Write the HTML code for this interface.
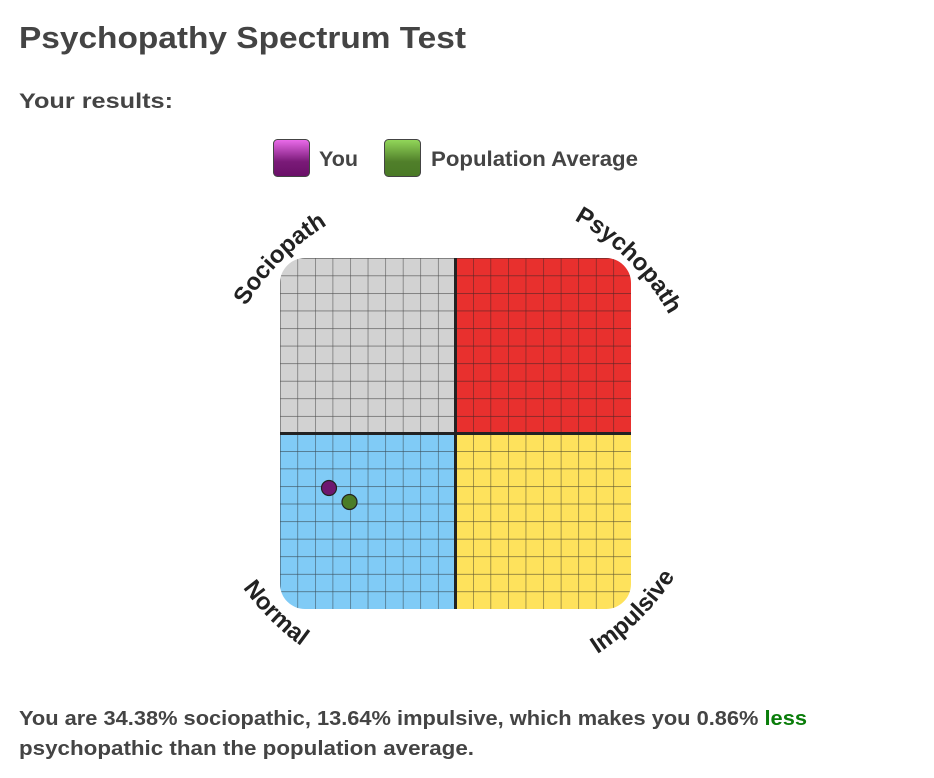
<!DOCTYPE html>
<html><head><meta charset="utf-8"><style>
html,body{margin:0;padding:0;background:#fff;}
svg{display:block;font-family:"Liberation Sans",sans-serif;}
</style></head><body>
<svg width="934" height="778" viewBox="0 0 934 778" xmlns="http://www.w3.org/2000/svg">
<defs>
<linearGradient id="gp" x1="0" y1="0" x2="0" y2="1"><stop offset="0" stop-color="#ec6cec"/><stop offset="0.6" stop-color="#7a1a78"/><stop offset="1" stop-color="#6a1068"/></linearGradient>
<linearGradient id="gg" x1="0" y1="0" x2="0" y2="1"><stop offset="0" stop-color="#93d85a"/><stop offset="0.6" stop-color="#507f2a"/><stop offset="1" stop-color="#4a7a26"/></linearGradient>
<clipPath id="cl"><rect x="280" y="258" width="351" height="351" rx="25" ry="25"/></clipPath>
<pattern id="grid" x="280" y="258" width="17.55" height="17.55" patternUnits="userSpaceOnUse">
<path d="M0 0 H17.55 M0 0 V17.55" stroke="#222" stroke-opacity="0.75" stroke-width="1.1" fill="none"/>
</pattern>
<path id="p1" d="M218.3,370.6 A245,245 0 0 1 391.6,197.3"/>
<path id="p2" d="M518.4,197.3 A245,245 0 0 1 691.7,370.6"/>
<path id="p3" d="M201.9,501.8 A262,262 0 0 0 387.2,687.1"/>
<path id="p4" d="M522.8,687.1 A262,262 0 0 0 708.1,501.8"/>
</defs>
<text x="19" y="48" font-size="31" font-weight="bold" fill="#444" textLength="447" lengthAdjust="spacingAndGlyphs">Psychopathy Spectrum Test</text>
<text x="19" y="108" font-size="21" font-weight="bold" fill="#444" textLength="154" lengthAdjust="spacingAndGlyphs">Your results:</text>
<rect x="273.5" y="139.5" width="36" height="37" rx="4" fill="url(#gp)" stroke="#444" stroke-width="1"/>
<text x="319" y="166" font-size="21" font-weight="bold" fill="#444" textLength="39" lengthAdjust="spacingAndGlyphs">You</text>
<rect x="384.5" y="139.5" width="36" height="37" rx="4" fill="url(#gg)" stroke="#444" stroke-width="1"/>
<text x="431" y="166" font-size="21" font-weight="bold" fill="#444" textLength="207" lengthAdjust="spacingAndGlyphs">Population Average</text>
<g clip-path="url(#cl)">
<rect x="280" y="258" width="175.5" height="175.5" fill="#d2d2d2"/>
<rect x="455.5" y="258" width="175.5" height="175.5" fill="#e8302e"/>
<rect x="280" y="433.5" width="175.5" height="175.5" fill="#80cbf6"/>
<rect x="455.5" y="433.5" width="175.5" height="175.5" fill="#fee25c"/>
<rect x="280" y="258" width="351" height="351" fill="url(#grid)"/>
<line x1="455.5" y1="258" x2="455.5" y2="609" stroke="#222" stroke-width="3"/>
<line x1="280" y1="433.5" x2="631" y2="433.5" stroke="#222" stroke-width="3"/>
</g>
<g font-size="24" font-weight="bold" fill="#222" text-anchor="middle">
<text><textPath href="#p1" startOffset="50%">Sociopath</textPath></text>
<text><textPath href="#p2" startOffset="50%">Psychopath</textPath></text>
<text><textPath href="#p3" startOffset="50%">Normal</textPath></text>
<text><textPath href="#p4" startOffset="50%">Impulsive</textPath></text>
</g>
<circle cx="329" cy="488" r="7.5" fill="#6e1770" stroke="#222" stroke-width="1.2"/>
<circle cx="349.5" cy="502" r="7.5" fill="#4b7c26" stroke="#222" stroke-width="1.2"/>
<text x="19" y="725" font-size="20" font-weight="bold" fill="#444" textLength="788" lengthAdjust="spacingAndGlyphs">You are 34.38% sociopathic, 13.64% impulsive, which makes you 0.86% <tspan fill="#0a7d0a">less</tspan></text>
<text x="19" y="755" font-size="20" font-weight="bold" fill="#444" textLength="455" lengthAdjust="spacingAndGlyphs">psychopathic than the population average.</text>
</svg>
</body></html>
